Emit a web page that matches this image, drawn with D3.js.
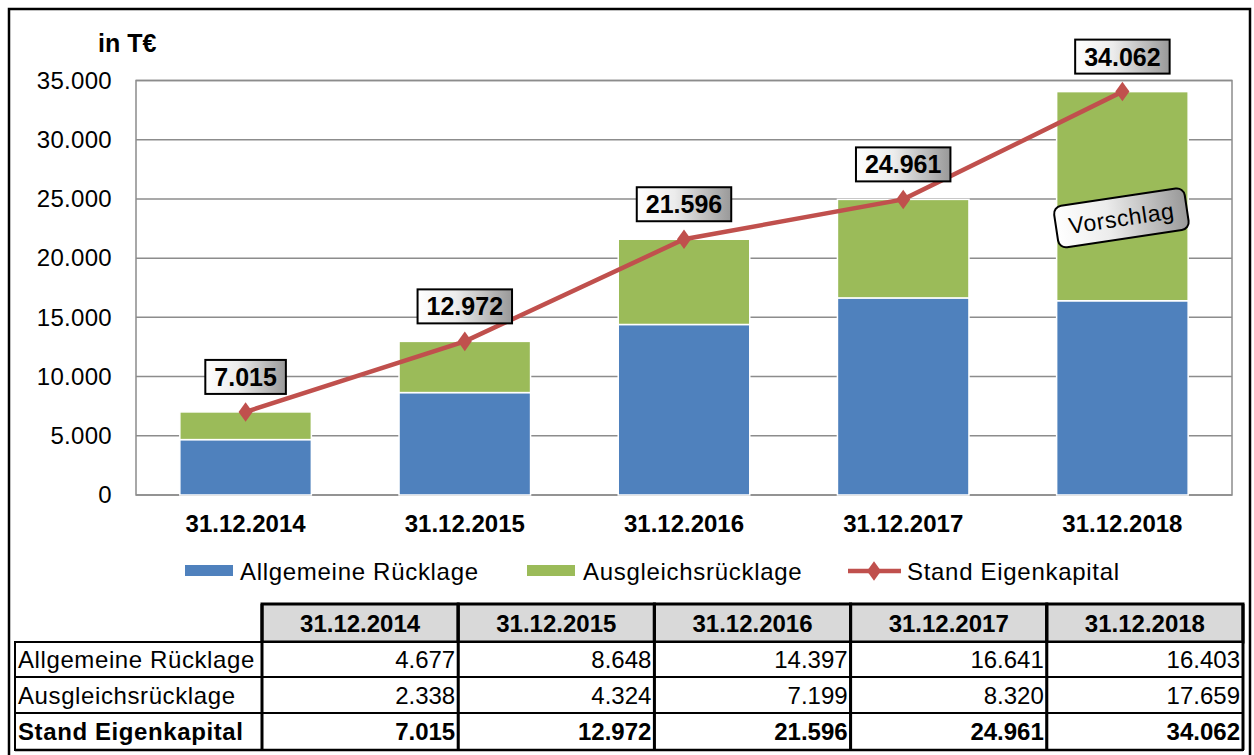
<!DOCTYPE html>
<html>
<head>
<meta charset="utf-8">
<script src="https://cdn.jsdelivr.net/npm/d3@7"></script>
<style>
  body { margin: 0; background: #fff; }
  text { font-family: "Liberation Sans", Arial, sans-serif; fill: #000; }
</style>
</head>
<body>
<script>
var w = 1254;
var h = 755;

// data
var categories = ["31.12.2014", "31.12.2015", "31.12.2016", "31.12.2017", "31.12.2018"];
var allgemeine = [4677, 8648, 14397, 16641, 16403];
var ausgleich = [2338, 4324, 7199, 8320, 17659];
var eigenkapital = [7015, 12972, 21596, 24961, 34062];
var yTicks = [0, 5000, 10000, 15000, 20000, 25000, 30000, 35000];
var seriesNames = ["Allgemeine Rücklage", "Ausgleichsrücklage", "Stand Eigenkapital"];

var blue = "#4F81BD", green = "#9BBB59", red = "#C0504D";

var de = d3.formatLocale({ decimal: ",", thousands: ".", grouping: [3], currency: ["", " €"] });
var fmt = de.format(",d");

var plot = { left: 136, right: 1232, top: 80.5, bottom: 495 };

var svg = d3.select("body")
    .append("svg")
    .attr("width", w)
    .attr("height", h);

var defs = svg.append("defs");
var grad = defs.append("linearGradient").attr("id", "boxGrad")
    .attr("x1", "0%").attr("x2", "100%").attr("y1", "0%").attr("y2", "0%");
grad.append("stop").attr("offset", "0%").attr("stop-color", "#ffffff");
grad.append("stop").attr("offset", "40%").attr("stop-color", "#ececec");
grad.append("stop").attr("offset", "100%").attr("stop-color", "#999999");

// outer frame
svg.append("rect")
    .attr("x", 9).attr("y", 9)
    .attr("width", 1241).attr("height", 770)
    .attr("fill", "none").attr("stroke", "#000").attr("stroke-width", 2.5);

var xScale = d3.scaleBand()
    .domain(categories)
    .range([plot.left, plot.right])
    .paddingInner(0.4)
    .paddingOuter(0.2);

var yScale = d3.scaleLinear()
    .domain([0, 35000])
    .range([plot.bottom, plot.top]);

function cx(d) { return xScale(d) + xScale.bandwidth() / 2; }

// gridlines
svg.append("g")
    .selectAll("line")
    .data(yTicks)
    .enter()
    .append("line")
    .attr("x1", plot.left).attr("x2", plot.right)
    .attr("y1", function(d) { return yScale(d); })
    .attr("y2", function(d) { return yScale(d); })
    .attr("stroke", "#8c8c8c").attr("stroke-width", 1.5);

// plot area border
svg.append("rect")
    .attr("x", plot.left).attr("y", plot.top)
    .attr("width", plot.right - plot.left).attr("height", plot.bottom - plot.top)
    .attr("fill", "none").attr("stroke", "#8c8c8c").attr("stroke-width", 1.5);

// y axis
var yAxis = d3.axisLeft(yScale)
    .tickValues(yTicks)
    .tickFormat(function(d) { return fmt(d); })
    .tickSize(0)
    .tickPadding(24);

var yg = svg.append("g")
    .attr("transform", "translate(" + plot.left + ",0)")
    .call(yAxis);
yg.select(".domain").remove();
yg.selectAll("text")
    .attr("font-size", 24)
    .attr("letter-spacing", 0.3)
    .attr("font-family", "Liberation Sans, Arial, sans-serif")
    .attr("fill", "#000");

svg.append("text")
    .attr("x", 98).attr("y", 52)
    .attr("font-size", 25).attr("font-weight", "bold")
    .text("in T€");

// x axis
var xAxis = d3.axisBottom(xScale).tickSize(0).tickPadding(20);
var xg = svg.append("g")
    .attr("transform", "translate(0," + plot.bottom + ")")
    .call(xAxis);
xg.select(".domain").remove();
xg.selectAll("text")
    .attr("font-size", 24)
    .attr("font-weight", "bold")
    .attr("font-family", "Liberation Sans, Arial, sans-serif")
    .attr("fill", "#000");

// stacked bars
var rows = categories.map(function(c, i) {
    return { cat: c, allgemeine: allgemeine[i], ausgleich: ausgleich[i] };
});
var stack = d3.stack().keys(["allgemeine", "ausgleich"]);
var layers = stack(rows);
var colors = [blue, green];

svg.append("g")
    .selectAll("g")
    .data(layers)
    .enter()
    .append("g")
    .attr("fill", function(d, i) { return colors[i]; })
    .selectAll("rect")
    .data(function(d) { return d; })
    .enter()
    .append("rect")
    .attr("x", function(d) { return xScale(d.data.cat); })
    .attr("y", function(d) { return yScale(d[1]); })
    .attr("width", xScale.bandwidth())
    .attr("height", function(d) { return yScale(d[0]) - yScale(d[1]); })
    .attr("stroke", "#fff")
    .attr("stroke-width", 1.5);

// line
var line = d3.line()
    .x(function(d, i) { return cx(categories[i]); })
    .y(function(d) { return yScale(d); });

svg.append("path")
    .datum(eigenkapital)
    .attr("d", line)
    .attr("fill", "none")
    .attr("stroke", red)
    .attr("stroke-width", 4.5);

var diamond = d3.symbol().type(d3.symbolDiamond).size(110);
svg.append("g")
    .selectAll("path")
    .data(eigenkapital)
    .enter()
    .append("path")
    .attr("d", diamond)
    .attr("transform", function(d, i) { return "translate(" + cx(categories[i]) + "," + yScale(d) + ") scale(1.25,1)"; })
    .attr("fill", red);

// value labels
var labels = svg.append("g")
    .selectAll("g")
    .data(eigenkapital)
    .enter()
    .append("g")
    .attr("transform", function(d, i) { return "translate(" + cx(categories[i]) + "," + (yScale(d) - 35) + ")"; });

labels.append("rect").attr("class", "lbox");
labels.append("text")
    .attr("text-anchor", "middle")
    .attr("dy", "0.36em")
    .attr("font-size", 25)
    .attr("font-weight", "bold")
    .text(function(d) { return fmt(d); });
labels.each(function() {
    var g = d3.select(this);
    var tw = g.select("text").node().getComputedTextLength();
    g.select("rect")
        .attr("x", -tw / 2 - 9).attr("y", -17)
        .attr("width", tw + 18).attr("height", 34)
        .attr("fill", "url(#boxGrad)")
        .attr("stroke", "#000").attr("stroke-width", 2);
});

// Vorschlag annotation
var vg = svg.append("g")
    .attr("transform", "translate(" + (cx(categories[4]) - 1) + "," + yScale(23400) + ") rotate(-8.5)");
vg.append("rect")
    .attr("x", -66).attr("y", -21)
    .attr("width", 132).attr("height", 42)
    .attr("rx", 8).attr("ry", 8)
    .attr("fill", "url(#boxGrad)")
    .attr("stroke", "#000").attr("stroke-width", 2);
vg.append("text")
    .attr("text-anchor", "middle")
    .attr("dy", "0.36em")
    .attr("font-size", 23)
    .attr("letter-spacing", 0.6)
    .text("Vorschlag");

// legend
var legend = svg.append("g");
var lx = [185, 527, 848];
legend.append("rect").attr("x", lx[0]).attr("y", 565).attr("width", 48).attr("height", 11).attr("fill", blue);
legend.append("rect").attr("x", lx[1]).attr("y", 565).attr("width", 48).attr("height", 11).attr("fill", green);
legend.append("line").attr("x1", lx[2]).attr("x2", lx[2] + 53).attr("y1", 571).attr("y2", 571)
    .attr("stroke", red).attr("stroke-width", 4.5);
legend.append("path").attr("d", diamond)
    .attr("transform", "translate(" + (lx[2] + 26) + ",571) scale(1.25,1)")
    .attr("fill", red);
legend.selectAll("text")
    .data(seriesNames)
    .enter()
    .append("text")
    .attr("x", function(d, i) { return lx[i] + [55, 56, 59][i]; })
    .attr("y", 580)
    .attr("font-size", 24)
    .attr("letter-spacing", 0.7)
    .text(function(d) { return d; });

// table
var tbl = svg.append("g");
var labelX0 = 15, colX0 = 262, colW = 196.2;
var rowY = [604, 642, 677, 713, 750];
var tableRows = [
    { name: seriesNames[0], vals: allgemeine, bold: false },
    { name: seriesNames[1], vals: ausgleich, bold: false },
    { name: seriesNames[2], vals: eigenkapital, bold: true }
];

// header cells
tbl.selectAll("rect.hd")
    .data(categories)
    .enter()
    .append("rect")
    .attr("class", "hd")
    .attr("x", function(d, i) { return colX0 + i * colW; })
    .attr("y", rowY[0])
    .attr("width", colW).attr("height", rowY[1] - rowY[0])
    .attr("fill", "#D9D9D9")
    .attr("stroke", "#000").attr("stroke-width", 3);
tbl.selectAll("text.hd")
    .data(categories)
    .enter()
    .append("text")
    .attr("class", "hd")
    .attr("x", function(d, i) { return colX0 + i * colW + colW / 2; })
    .attr("y", (rowY[0] + rowY[1]) / 2)
    .attr("dy", "0.36em")
    .attr("text-anchor", "middle")
    .attr("font-size", 24).attr("font-weight", "bold")
    .text(function(d) { return d; });

tableRows.forEach(function(r, ri) {
    var y0 = rowY[ri + 1], y1 = rowY[ri + 2];
    tbl.append("rect")
        .attr("x", labelX0).attr("y", y0)
        .attr("width", colX0 - labelX0).attr("height", y1 - y0)
        .attr("fill", "#fff").attr("stroke", "#000").attr("stroke-width", 2);
    tbl.append("text")
        .attr("x", labelX0 + 3).attr("y", (y0 + y1) / 2)
        .attr("dy", "0.36em")
        .attr("font-size", 24)
        .attr("letter-spacing", 0.6)
        .attr("font-weight", r.bold ? "bold" : "normal")
        .text(r.name);
    r.vals.forEach(function(v, ci) {
        var x = colX0 + ci * colW;
        tbl.append("rect")
            .attr("x", x).attr("y", y0)
            .attr("width", colW).attr("height", y1 - y0)
            .attr("fill", "#fff").attr("stroke", "#000").attr("stroke-width", 2);
        tbl.append("text")
            .attr("x", x + colW - 3).attr("y", (y0 + y1) / 2)
            .attr("dy", "0.36em")
            .attr("text-anchor", "end")
            .attr("font-size", 24)
            .attr("font-weight", r.bold ? "bold" : "normal")
            .text(fmt(v));
    });
});

// thick column separators
tbl.selectAll("line.col")
    .data(d3.range(categories.length + 1))
    .enter()
    .append("line")
    .attr("class", "col")
    .attr("x1", function(d) { return colX0 + d * colW; })
    .attr("x2", function(d) { return colX0 + d * colW; })
    .attr("y1", rowY[0]).attr("y2", rowY[4])
    .attr("stroke", "#000").attr("stroke-width", 3);
tbl.append("line")
    .attr("x1", labelX0).attr("x2", colX0 + categories.length * colW)
    .attr("y1", rowY[4]).attr("y2", rowY[4])
    .attr("stroke", "#000").attr("stroke-width", 2.5);
</script>
</body>
</html>
